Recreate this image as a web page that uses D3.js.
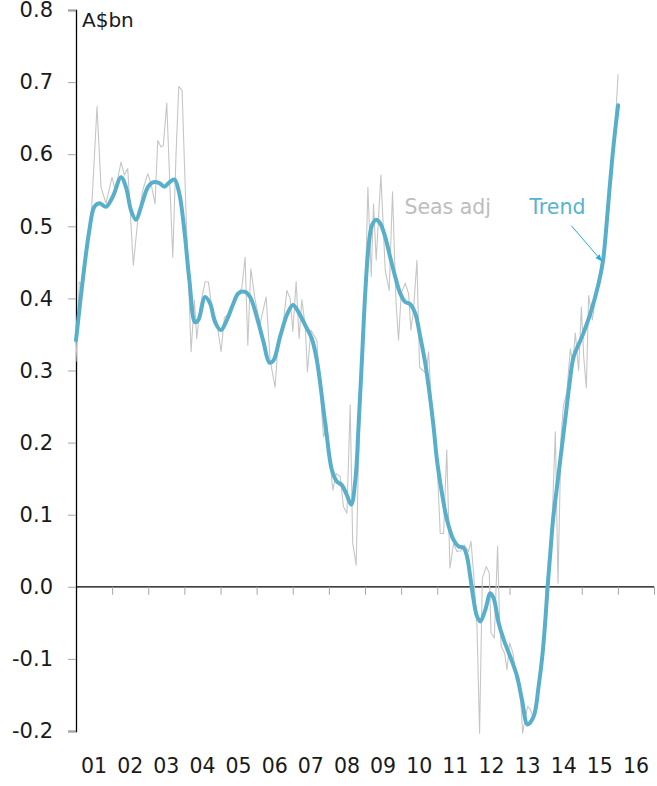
<!DOCTYPE html>
<html>
<head>
<meta charset="utf-8">
<script src="https://cdn.jsdelivr.net/npm/d3@7"></script>
<style>
  html, body { margin: 0; padding: 0; background: #fff; }
  svg text { font-family: "Century Gothic", "URW Gothic", "DejaVu Sans", sans-serif; }
</style>
</head>
<body>
<div id="chart"></div>
<script>
// Monthly seasonally adjusted series (decimal year, A$bn)
const seasAdj = [
  [2001.000, 0.312], [2001.091, 0.423], [2001.186, 0.416], [2001.296, 0.462], [2001.435, 0.527],
  [2001.582, 0.666], [2001.693, 0.554], [2001.831, 0.532], [2001.997, 0.568], [2002.089, 0.550],
  [2002.247, 0.589], [2002.338, 0.571], [2002.432, 0.580], [2002.587, 0.446], [2002.709, 0.508],
  [2002.848, 0.550], [2002.986, 0.573], [2003.078, 0.559], [2003.188, 0.531], [2003.263, 0.619],
  [2003.355, 0.610], [2003.418, 0.612], [2003.512, 0.671], [2003.604, 0.550], [2003.679, 0.457],
  [2003.770, 0.601], [2003.845, 0.694], [2003.936, 0.689], [2004.047, 0.518], [2004.186, 0.326],
  [2004.277, 0.398], [2004.343, 0.344], [2004.435, 0.388], [2004.573, 0.423], [2004.665, 0.423],
  [2004.759, 0.388], [2004.898, 0.367], [2005.017, 0.326], [2005.108, 0.374], [2005.219, 0.377],
  [2005.341, 0.388], [2005.452, 0.407], [2005.590, 0.414], [2005.681, 0.457], [2005.756, 0.335],
  [2005.839, 0.441], [2005.958, 0.398], [2006.097, 0.365], [2006.263, 0.402], [2006.374, 0.314],
  [2006.512, 0.277], [2006.604, 0.347], [2006.726, 0.360], [2006.837, 0.411], [2006.928, 0.400],
  [2007.003, 0.354], [2007.094, 0.423], [2007.177, 0.344], [2007.252, 0.398], [2007.343, 0.363],
  [2007.407, 0.298], [2007.501, 0.356], [2007.668, 0.342], [2007.759, 0.273], [2007.850, 0.208],
  [2007.945, 0.227], [2008.036, 0.171], [2008.111, 0.134], [2008.202, 0.157], [2008.313, 0.153],
  [2008.404, 0.111], [2008.499, 0.102], [2008.590, 0.252], [2008.659, 0.061], [2008.756, 0.030],
  [2008.820, 0.176], [2008.914, 0.305], [2009.006, 0.407], [2009.080, 0.554], [2009.172, 0.430],
  [2009.235, 0.531], [2009.310, 0.453], [2009.440, 0.571], [2009.560, 0.439], [2009.670, 0.411],
  [2009.762, 0.548], [2009.856, 0.398], [2009.928, 0.342], [2010.003, 0.407], [2010.114, 0.421],
  [2010.205, 0.407], [2010.271, 0.356], [2010.343, 0.384], [2010.438, 0.453], [2010.510, 0.305],
  [2010.576, 0.301], [2010.695, 0.296], [2010.759, 0.326], [2010.853, 0.241], [2010.992, 0.176],
  [2011.083, 0.074], [2011.175, 0.074], [2011.263, 0.190], [2011.352, 0.026], [2011.452, 0.060],
  [2011.546, 0.049], [2011.656, 0.050], [2011.748, 0.058], [2011.867, 0.049], [2011.934, 0.063],
  [2012.006, 0.019], [2012.100, -0.055], [2012.172, -0.203], [2012.247, 0.012], [2012.357, 0.028],
  [2012.440, 0.019], [2012.488, -0.064], [2012.579, -0.071], [2012.670, 0.056], [2012.726, -0.046],
  [2012.773, -0.083], [2012.864, -0.092], [2012.931, -0.115], [2013.003, -0.078], [2013.097, -0.092],
  [2013.188, -0.129], [2013.252, -0.124], [2013.327, -0.170], [2013.363, -0.203], [2013.446, -0.180],
  [2013.501, -0.166], [2013.576, -0.170], [2013.668, -0.184], [2013.762, -0.150], [2013.900, -0.100],
  [2014.039, -0.009], [2014.158, 0.060], [2014.269, 0.215], [2014.343, 0.005], [2014.427, 0.208],
  [2014.490, 0.250], [2014.587, 0.270], [2014.684, 0.330], [2014.753, 0.310], [2014.823, 0.352],
  [2014.914, 0.300], [2014.989, 0.388], [2015.053, 0.320], [2015.127, 0.276], [2015.191, 0.404],
  [2015.294, 0.370], [2015.404, 0.410], [2015.515, 0.440], [2015.626, 0.470], [2015.737, 0.530],
  [2015.820, 0.570], [2015.903, 0.620], [2016.006, 0.711]
];

// Trend series (decimal year, A$bn)
const trend = [
  [2001.000, 0.342], [2001.186, 0.425], [2001.368, 0.494], [2001.507, 0.527], [2001.645, 0.532],
  [2001.831, 0.527], [2002.017, 0.541], [2002.247, 0.568], [2002.385, 0.554], [2002.524, 0.522],
  [2002.662, 0.509], [2002.801, 0.527], [2002.986, 0.554], [2003.125, 0.561], [2003.307, 0.560],
  [2003.446, 0.555], [2003.584, 0.561], [2003.723, 0.565], [2003.861, 0.545], [2004.000, 0.494],
  [2004.139, 0.425], [2004.296, 0.367], [2004.388, 0.370], [2004.573, 0.402], [2004.712, 0.393],
  [2004.850, 0.367], [2005.008, 0.356], [2005.175, 0.370], [2005.357, 0.393], [2005.496, 0.407],
  [2005.681, 0.409], [2005.820, 0.402], [2006.006, 0.374], [2006.188, 0.340], [2006.355, 0.311],
  [2006.465, 0.314], [2006.651, 0.347], [2006.837, 0.377], [2007.003, 0.391], [2007.158, 0.381],
  [2007.343, 0.363], [2007.529, 0.344], [2007.668, 0.314], [2007.806, 0.264], [2007.945, 0.208],
  [2008.083, 0.162], [2008.222, 0.146], [2008.360, 0.141], [2008.499, 0.127], [2008.618, 0.114],
  [2008.737, 0.150], [2008.820, 0.222], [2008.914, 0.314], [2009.006, 0.407], [2009.097, 0.471],
  [2009.191, 0.501], [2009.310, 0.509], [2009.421, 0.504], [2009.560, 0.485], [2009.698, 0.457],
  [2009.837, 0.430], [2009.975, 0.407], [2010.114, 0.395], [2010.252, 0.392], [2010.391, 0.379],
  [2010.529, 0.347], [2010.668, 0.310], [2010.787, 0.268], [2010.898, 0.222], [2010.992, 0.176],
  [2011.130, 0.130], [2011.269, 0.093], [2011.452, 0.065], [2011.590, 0.056], [2011.729, 0.054],
  [2011.823, 0.042], [2011.914, 0.014], [2012.006, -0.018], [2012.100, -0.041], [2012.191, -0.048],
  [2012.330, -0.032], [2012.468, -0.009], [2012.560, -0.016], [2012.698, -0.050], [2012.837, -0.073],
  [2013.022, -0.097], [2013.208, -0.124], [2013.346, -0.157], [2013.501, -0.191], [2013.668, -0.180],
  [2013.806, -0.138], [2013.917, -0.092], [2013.992, -0.046], [2014.055, 0.000], [2014.130, 0.047],
  [2014.205, 0.093], [2014.316, 0.139], [2014.427, 0.185], [2014.573, 0.245], [2014.670, 0.285],
  [2014.776, 0.319], [2015.008, 0.347], [2015.238, 0.379], [2015.468, 0.421], [2015.590, 0.453],
  [2015.681, 0.499], [2015.773, 0.554], [2015.884, 0.614], [2016.006, 0.668]
];

const yTicks = [-0.2, -0.1, 0.0, 0.1, 0.2, 0.3, 0.4, 0.5, 0.6, 0.7, 0.8];
const years = d3.range(2001, 2017);          // 2001 .. 2016
const yearLabels = ["01", "02", "03", "04", "05", "06", "07", "08", "09", "10", "11", "12", "13", "14", "15", "16"];

// Chart dimensions
const width = 657;
const height = 786;
const marginLeft = 76;
const marginRight = 3;
const marginTop = 10;
const plotBottom = 731;

const x = d3.scaleLinear().domain([2001, 2017]).range([marginLeft, width - marginRight]);
const y = d3.scaleLinear().domain([-0.2, 0.8]).range([plotBottom, marginTop]);

const svg = d3.select("#chart").append("svg")
    .attr("width", width)
    .attr("height", height)
    .attr("viewBox", [0, 0, width, height]);

svg.append("defs").append("marker")
    .attr("id", "arrow")
    .attr("viewBox", "0 0 10 10")
    .attr("refX", 9)
    .attr("refY", 5)
    .attr("markerWidth", 7)
    .attr("markerHeight", 7)
    .attr("orient", "auto")
    .append("path")
    .attr("d", "M0,1L10,5L0,9Z")
    .attr("fill", "#2aa9df");

// Y axis with gray ticks on the left
const yAxis = svg.append("g")
    .attr("transform", `translate(${marginLeft},0)`)
    .call(d3.axisLeft(y).tickValues(yTicks).tickSize(8).tickPadding(15)
        .tickFormat(d => d3.format(".1f")(d).replace("−", "-")));
yAxis.select(".domain").attr("stroke", "#000").attr("stroke-width", 1.3);
yAxis.selectAll(".tick line").attr("stroke", "#a6a6a6");
yAxis.selectAll(".tick text")
    .attr("font-size", 21)
    .attr("fill", "#1a1a1a");

// X axis at zero, ticks at year boundaries
const xAxis = svg.append("g")
    .attr("transform", `translate(0,${y(0)})`)
    .call(d3.axisBottom(x).tickValues(years.concat([2017])).tickSize(8).tickFormat(""));
xAxis.select(".domain").attr("stroke", "#000").attr("stroke-width", 1.3).attr("d", `M${marginLeft},0H${width - marginRight}`);
xAxis.selectAll(".tick line").attr("stroke", "#a6a6a6");
xAxis.selectAll(".tick").filter(d => d === 2001).remove();

// Year labels under the plot, centred on each year
svg.append("g")
    .selectAll("text")
    .data(years)
    .join("text")
    .attr("x", d => x(d + 0.5))
    .attr("y", 773)
    .attr("text-anchor", "middle")
    .attr("font-size", 20.5)
    .attr("fill", "#1a1a1a")
    .text((d, i) => yearLabels[i]);

// Unit label
svg.append("text")
    .attr("x", marginLeft + 6)
    .attr("y", 27)
    .attr("font-size", 20)
    .attr("fill", "#1a1a1a")
    .text("A$bn");

// Seasonally adjusted line
svg.append("path")
    .datum(seasAdj)
    .attr("fill", "none")
    .attr("stroke", "#c6c6c6")
    .attr("stroke-width", 1.1)
    .attr("stroke-linejoin", "round")
    .attr("d", d3.line().x(d => x(d[0])).y(d => y(d[1])));

// Trend line
svg.append("path")
    .datum(trend)
    .attr("fill", "none")
    .attr("stroke", "#58afcb")
    .attr("stroke-width", 4)
    .attr("stroke-linecap", "round")
    .attr("stroke-linejoin", "round")
    .attr("d", d3.line().curve(d3.curveCatmullRom.alpha(0.5)).x(d => x(d[0])).y(d => y(d[1])));

// Annotations
svg.append("text")
    .attr("x", x(2010.09))
    .attr("y", 214)
    .attr("font-size", 20.5)
    .attr("fill", "#bdbdbd")
    .text("Seas adj");

svg.append("text")
    .attr("x", x(2013.55))
    .attr("y", 214)
    .attr("font-size", 20.5)
    .attr("fill", "#58b2d2")
    .text("Trend");

svg.append("line")
    .attr("x1", x(2014.71))
    .attr("y1", y(0.501))
    .attr("x2", x(2015.55))
    .attr("y2", y(0.452))
    .attr("stroke", "#2aa9df")
    .attr("stroke-width", 1)
    .attr("marker-end", "url(#arrow)");
</script>
</body>
</html>
